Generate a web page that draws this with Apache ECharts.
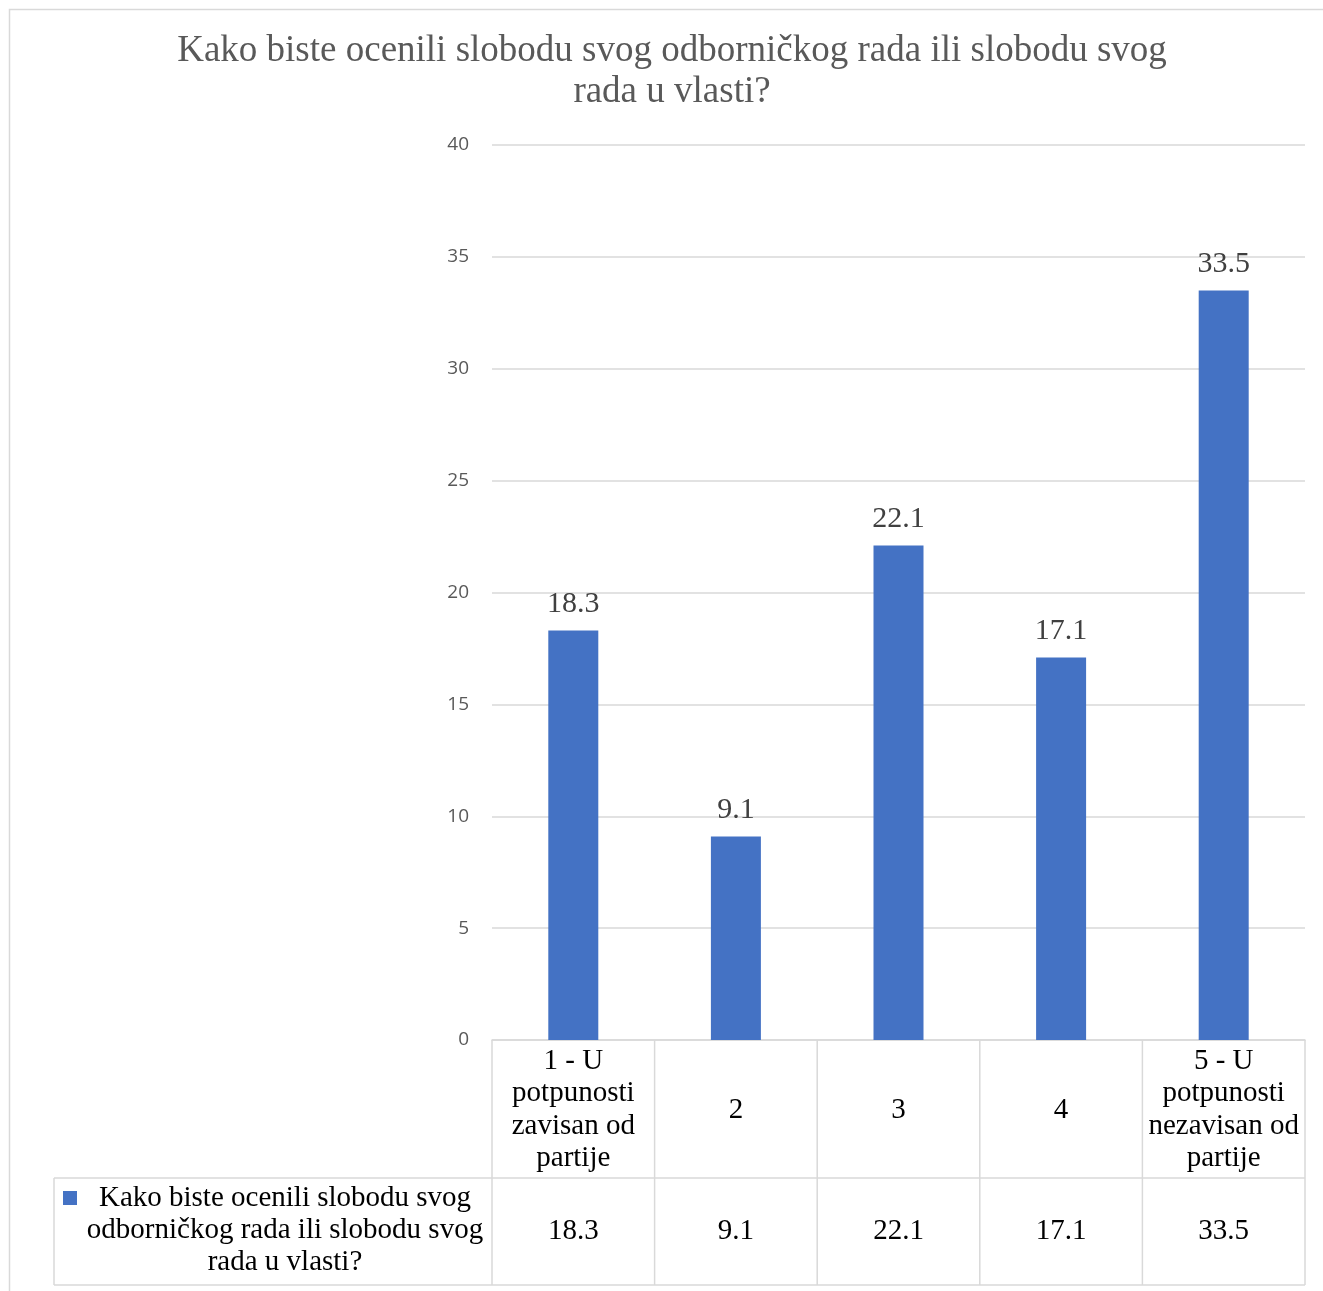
<!DOCTYPE html>
<html><head><meta charset="utf-8">
<script src="https://cdn.jsdelivr.net/npm/echarts@6/dist/echarts.min.js"></script>
<style>html,body{margin:0;padding:0;background:#fff}#c{width:1323px;height:1291px}</style>
</head><body><div id="c"></div>
<script>
var titleText = 'Kako biste ocenili slobodu svog odborničkog rada ili slobodu svog\nrada u vlasti?';
var categories = ['1 - U\npotpunosti\nzavisan od\npartije', '2', '3', '4', '5 - U\npotpunosti\nnezavisan od\npartije'];
var values = [18.3, 9.1, 22.1, 17.1, 33.5];
var seriesName = 'Kako biste ocenili slobodu svog\nodborničkog rada ili slobodu svog\nrada u vlasti?';
var yTicks = [0, 5, 10, 15, 20, 25, 30, 35, 40];

var serif = '"Liberation Serif", "Times New Roman", serif';
var chart = echarts.init(document.getElementById('c'), null, {renderer: 'canvas'});
var gridL = 492, gridR = 18, gridT = 145, gridB = 251;
var option = {
  animation: false,
  backgroundColor: '#fff',
  title: {
    text: titleText, left: 672, textAlign: 'center', top: 31,
    textStyle: {fontFamily: serif, fontSize: 37, fontWeight: 'normal', color: '#595959', lineHeight: 41},
    padding: 0
  },
  grid: {left: gridL, right: gridR, top: gridT, bottom: gridB},
  xAxis: {
    type: 'category', data: categories,
    axisLine: {show: true, lineStyle: {color: '#D9D9D9', width: 1.5}},
    axisTick: {show: false},
    axisLabel: {show: true, interval: 0, margin: 70, fontFamily: serif, fontSize: 29, color: '#000', lineHeight: 32.5, verticalAlign: 'middle'}
  },
  yAxis: {
    type: 'value', min: yTicks[0], max: yTicks[yTicks.length - 1], interval: 5,
    axisLine: {show: false}, axisTick: {show: false},
    axisLabel: {margin: 23, fontFamily: '"Open Sans", sans-serif', fontSize: 19, color: '#595959'},
    splitLine: {lineStyle: {color: '#D9D9D9', width: 1.5}}
  },
  series: [{
    name: seriesName, type: 'bar', data: values, barWidth: 50,
    itemStyle: {color: '#4472C4'},
    label: {show: true, position: 'top', distance: 11, fontFamily: serif, fontSize: 30, color: '#404040'}
  }]
};
chart.setOption(option);

// data table drawn from the arrays using the chart's scale
var y0 = chart.convertToPixel({yAxisIndex: 0}, 0);
var xs = categories.map(function (c, i) { return chart.convertToPixel({xAxisIndex: 0}, i); });
var step = xs.length > 1 ? xs[1] - xs[0] : 160;
var row1B = y0 + 138, row2B = y0 + 245, legL = 54;
var lineCol = '#D9D9D9';
var els = [];
function line(x1, y1, x2, y2) {
  els.push({type: 'line', shape: {x1: x1, y1: y1, x2: x2, y2: y2}, style: {stroke: lineCol, lineWidth: 1.5}, silent: true});
}
// outer chart border
els.push({type: 'rect', shape: {x: 9.5, y: 9.5, width: 1340, height: 1320}, style: {fill: null, stroke: '#D9D9D9', lineWidth: 1.5}, silent: true});
var bounds = [];
for (var i = 0; i <= xs.length; i++) bounds.push(xs[0] - step / 2 + i * step);
bounds.forEach(function (bx) { line(bx, y0, bx, row2B); });
line(legL, row1B, legL, row2B);
line(legL, row1B, bounds[bounds.length - 1], row1B);
line(legL, row2B, bounds[bounds.length - 1], row2B);
values.forEach(function (v, i) {
  els.push({type: 'text', style: {text: String(v), x: xs[i], y: 1231, align: 'center', verticalAlign: 'middle', font: '29px ' + serif, fill: '#000'}, silent: true});
});
// legend key + series name cell
els.push({type: 'rect', shape: {x: 63, y: 1191, width: 14, height: 14}, style: {fill: '#4472C4'}, silent: true});
els.push({type: 'text', style: {text: seriesName, x: 285, y: 1230, align: 'center', verticalAlign: 'middle', font: '29px ' + serif, lineHeight: 32, fill: '#000'}, silent: true});
chart.setOption({graphic: {elements: els}});
</script>
</body></html>
